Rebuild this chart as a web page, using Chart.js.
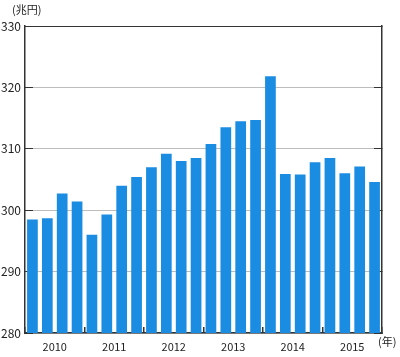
<!DOCTYPE html>
<html><head><meta charset="utf-8">
<script src="https://cdn.jsdelivr.net/npm/chart.js@4/dist/chart.umd.min.js"></script>
<style>html,body{margin:0;padding:0;background:#fff}#wrap{width:400px;height:357px;position:relative}</style>
</head><body><div id="wrap"><canvas id="c"></canvas></div>
<script>
const categories = ['2010Q1','2010Q2','2010Q3','2010Q4','2011Q1','2011Q2','2011Q3','2011Q4','2012Q1','2012Q2','2012Q3','2012Q4','2013Q1','2013Q2','2013Q3','2013Q4','2014Q1','2014Q2','2014Q3','2014Q4','2015Q1','2015Q2','2015Q3','2015Q4'];
const values = [298.5,298.7,302.7,301.4,296.0,299.3,304.0,305.4,307.0,309.2,308.0,308.5,310.8,313.5,314.5,314.7,321.8,305.9,305.8,307.8,308.5,306.0,307.1,304.6];
const yearLabels = ['2010','2011','2012','2013','2014','2015'];
const yUnit = '(兆円)';
const xUnit = '(年)';

const FONT = "'Noto Sans CJK JP', 'Noto Sans', sans-serif";
const DARK = '#333';

const unitPlugin = {
  id: 'units',
  afterDraw(chart) {
    const {ctx, chartArea} = chart;
    ctx.save();
    ctx.fillStyle = '#222';
    ctx.font = '11px ' + FONT;
    ctx.textBaseline = 'middle';
    ctx.textAlign = 'left';
    ctx.fillText(yUnit, 12, 10);
    ctx.fillText(xUnit, chartArea.right - 4, chartArea.bottom + 9);
    ctx.restore();
  }
};

new Chart(document.getElementById('c'), {
  type: 'bar',
  data: {
    labels: categories,
    datasets: [{
      data: values,
      backgroundColor: '#1a8ce2',
      borderWidth: 0,
      barPercentage: 0.72,
      categoryPercentage: 1.0,
      xAxisID: 'x',
      yAxisID: 'y'
    }]
  },
  options: {
    responsive: true,
    maintainAspectRatio: false,
    animation: false,
    layout: {padding: {top: 26, left: 0, right: 0, bottom: 0}},
    plugins: {legend: {display: false}, tooltip: {enabled: false}, title: {display: false}},
    scales: {
      x: {display: false, offset: true},
      x2: {
        type: 'linear', position: 'bottom', min: 0, max: 24, offset: false,
        afterFit(s) { s.height = 24; },
        ticks: {
          stepSize: 2, autoSkip: false, maxRotation: 0, padding: 13,
          color: '#222', font: {family: FONT, size: 11},
          callback: (v) => (v % 4 === 2 ? yearLabels[(v - 2) / 4] : '')
        },
        grid: {
          offset: false, drawOnChartArea: false, tickLength: -6, lineWidth: 1.5,
          color: (c) => (c.tick && c.tick.value % 4 === 0 ? DARK : 'rgba(0,0,0,0)'),
          tickColor: (c) => (c.tick && c.tick.value % 4 === 0 ? DARK : 'rgba(0,0,0,0)')
        },
        border: {display: true, color: DARK, width: 1.5}
      },
      y: {
        position: 'left', min: 280, max: 330,
        afterFit(s) { s.width = 25; },
        ticks: {stepSize: 10, padding: 12, color: '#222', font: {family: FONT, size: 12}},
        grid: {
          tickLength: -8, lineWidth: 1,
          color: (c) => (c.tick && c.tick.value === 330 ? DARK : '#bdbdbd'),
          tickColor: DARK
        },
        border: {display: true, color: DARK, width: 1.5}
      },
      y2: {
        position: 'right', min: 280, max: 330,
        afterFit(s) { s.width = 18; },
        ticks: {stepSize: 10, display: true, callback: () => '', padding: 0},
        grid: {drawOnChartArea: false, tickLength: -8, color: DARK, tickColor: DARK},
        border: {display: true, color: DARK, width: 1.5}
      }
    }
  },
  plugins: [unitPlugin]
});
</script></body></html>
